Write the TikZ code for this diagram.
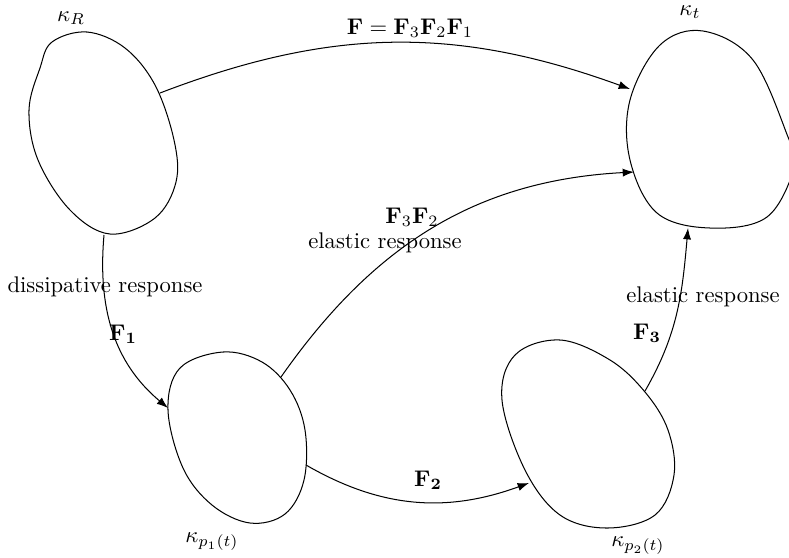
\documentclass[tikz,border=0pt]{standalone}
\usepackage{amsmath,amssymb}
\usepackage{tikz}
\usetikzlibrary{arrows.meta}

\begin{document}
\begin{tikzpicture}[x=0.4415pt,y=-0.4415pt,
    blob/.style={draw,line width=0.45pt},
    conn/.style={-{Latex[length=5pt,width=3.6pt]},line width=0.45pt}]
\useasboundingbox (0,0) rectangle (789,557);
% configurations
\draw[blob] plot[smooth cycle,tension=0.6] coordinates {(52,42) (87,32) (125,48) (155,85) (174,140) (176,182) (155,218) (110,234) (70,210) (38,160) (29,110) (40,68)};
\draw[blob] plot[smooth cycle,tension=0.6] coordinates {(703,31) (753,60) (788,137) (795,165) (767,217) (710,228) (657,213) (630,160) (630,100) (660,45)};
\draw[blob] plot[smooth cycle,tension=0.6] coordinates {(223,352) (262,362) (290,390) (305,430) (304,480) (285,514) (250,523) (212,505) (183,468) (168,410) (180,368)};
\draw[blob] plot[smooth cycle,tension=0.6] coordinates {(560,340) (610,360) (645,392) (668,430) (674,475) (655,515) (607,528) (560,515) (525,470) (502,400) (515,355)};
\node (kR) at (71,18) {$\kappa_R$};
\node (kt) at (690,12) {$\kappa_t$};
\node (kp1) at (212,542) {$\kappa_{p_1(t)}$};
\node (kp2) at (638,546) {$\kappa_{p_2(t)}$};
% ends of the maps
\coordinate (R-right) at (160,93);
\coordinate (R-bottom) at (104,235);
\coordinate (t-top) at (630,89);
\coordinate (t-mid) at (634,172);
\coordinate (t-bottom) at (688,228);
\coordinate (p1-left) at (168,408);
\coordinate (p1-top) at (281,377);
\coordinate (p1-right) at (306,465);
\coordinate (p2-left) at (529,483);
\coordinate (p2-top) at (645,391);
% maps
\draw[conn] (R-right) to[out=21,in=160] (t-top);
\draw[conn] (R-bottom) to[out=-95,in=140] (p1-left);
\draw[conn] (p1-top) to[out=55,in=183] (t-mid);
\draw[conn] (p1-right) to[out=-30,in=200] (p2-left);
\draw[conn] (p2-top) to[out=60,in=-95] (t-bottom);
% labels
\node (lF) at (410,28) {$\mathbf{F}=\mathbf{F}_3\mathbf{F}_2\mathbf{F}_1$};
\node (lF32) at (412,217) {$\mathbf{F}_3\mathbf{F}_2$};
\node (lel1) at (385,243) {elastic response};
\node (ldis) at (105,287) {dissipative response};
\node (lF1) at (123,334) {$\mathbf{F_1}$};
\node (lF2) at (428,480) {$\mathbf{F_2}$};
\node (lF3) at (647,333) {$\mathbf{F_3}$};
\node (lel2) at (703,297) {elastic response};
\end{tikzpicture}
\end{document}
